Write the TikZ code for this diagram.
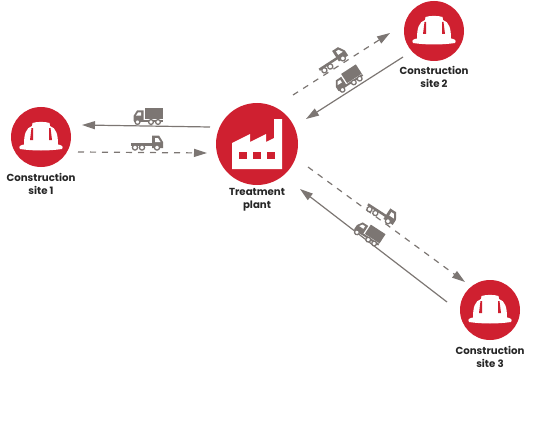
\documentclass[tikz,border=0pt]{standalone}
\usepackage{fontspec}
\setmainfont{Poppins}
\usepackage{xcolor}
\usetikzlibrary{arrows.meta,positioning}
\definecolor{signred}{HTML}{CF2030}
\definecolor{roadgrey}{HTML}{7C7673}
\tikzset{
  disc/.style={circle, fill=signred, inner sep=0pt},
  sitedisc/.style={disc, minimum size=60pt},
  plantdisc/.style={disc, minimum size=82pt},
  lbl/.style={align=center, text=black!85, font=\fontsize{10.2}{13}\selectfont\bfseries},
  loaded/.style={-{Triangle[length=13pt,width=8pt]}, roadgrey, line width=1.2pt},
  empty/.style={-{Triangle[length=13pt,width=8pt]}, roadgrey, line width=1.2pt, dash pattern=on 6pt off 6pt},
  hat/.pic={
    \fill[white] (-21,12) .. controls (-23,9) and (-20,8) .. (-17,7.5) .. controls (-17,-3) and (-15,-9) .. (-9,-11)
      -- (-8.5,-14) .. controls (-4,-15.5) and (4,-15.5) .. (8.5,-14) -- (9,-11)
      .. controls (15,-9) and (17,-3) .. (17,7.5) .. controls (20,8) and (23,9) .. (21,12)
      .. controls (8,14) and (-8,14) .. (-21,12) -- cycle;
    \fill[signred] (-9.5,-9) -- (-8,-9) -- (-8,3) .. controls (-9,3.5) and (-10,3.5) .. (-11,3) -- cycle;
    \fill[signred] (9.5,-9) -- (8,-9) -- (8,3) .. controls (9,3.5) and (10,3.5) .. (11,3) -- cycle;
  },
  works/.pic={
    \fill[white] (-25,25) -- (-25,-1) -- (-7,-10) -- (-7,-2) -- (9,-10) -- (9,-2) -- (17,-6) -- (17,-25) -- (25,-25) -- (25,25) -- cycle;
    \foreach \wx in {-18,-4,10}
      \fill[signred] (\wx,8) rectangle ++(7.5,7);
  },
  lorry/.pic={
    \fill[roadgrey] (-3,-8) rectangle (14.5,3);
    \fill[roadgrey] (-14.5,5) -- (-14.5,0) -- (-11,-5.5) -- (-4.5,-5.5) -- (-4.5,5) -- cycle;
    \fill[white] (-12,-0.5) -- (-10,-3.5) -- (-7,-3.5) -- (-7,-0.5) -- cycle;
    \fill[roadgrey] (-14,3.5) rectangle (14.5,5.5);
    \foreach \wx in {-10.5,3,10}
      \filldraw[fill=white, draw=roadgrey, line width=1.3pt] (\wx,6) circle (2.4);
  },
  flatbed/.pic={
    \fill[roadgrey] (-16,0) rectangle (6,2.5);
    \fill[roadgrey] (5,5) -- (5,-7.5) -- (12,-7.5) -- (16,-1) -- (16,5) -- cycle;
    \fill[white] (8,-1) -- (8,-5) -- (11,-5) -- (13.5,-1) -- cycle;
    \foreach \wx in {-12,-5,10}
      \filldraw[fill=white, draw=roadgrey, line width=1.3pt] (\wx,4.5) circle (2.6);
  }
}
\begin{document}
\begin{tikzpicture}[x=1pt, y=-1pt, node distance=3pt]
  \useasboundingbox (0,0) rectangle (540,425);
  \node[plantdisc] (plant) at (257,144) {};
  \node[sitedisc] (site1) at (41,137) {};
  \node[sitedisc] (site2) at (434,31) {};
  \node[sitedisc] (site3) at (490,310) {};
  \pic at (plant) {works};
  \pic at (site1) {hat};
  \pic at (site2) {hat};
  \pic at (site3) {hat};

  \node[lbl, below=0pt of plant] (plantlbl) {Treatment\\plant};
  \node[lbl, below=of site1] (site1lbl) {Construction\\site 1};
  \node[lbl, below=2pt of site2] (site2lbl) {Construction\\site 2};
  \node[lbl, below=of site3] (site3lbl) {Construction\\site 3};

  \draw[loaded] ([shift={(-47,-17)}]plant.center) -- ([shift={(41,-12)}]site1.center);
  \draw[empty] ([shift={(37,15)}]site1.center) -- ([shift={(-50,9)}]plant.center);
  \draw[empty] ([shift={(36,-49)}]plant.center) -- ([shift={(-44,2)}]site2.center);
  \draw[loaded] ([shift={(-31,26)}]site2.center) -- ([shift={(49,-25)}]plant.center);
  \draw[empty] ([shift={(51,23)}]plant.center) -- ([shift={(-25,-28)}]site3.center);
  \draw[loaded] ([shift={(-43,-8)}]site3.center) -- ([shift={(43,45)}]plant.center);

  \pic at (148,116) {lorry};
  \pic at (147,143) {flatbed};
  \pic[rotate=33] at (348,79) {lorry};
  \pic[rotate=33] at (332,60) {flatbed};
  \pic[rotate=-33] at (369,233) {lorry};
  \pic[rotate=-33] at (382,212) {flatbed};
\end{tikzpicture}
\end{document}
